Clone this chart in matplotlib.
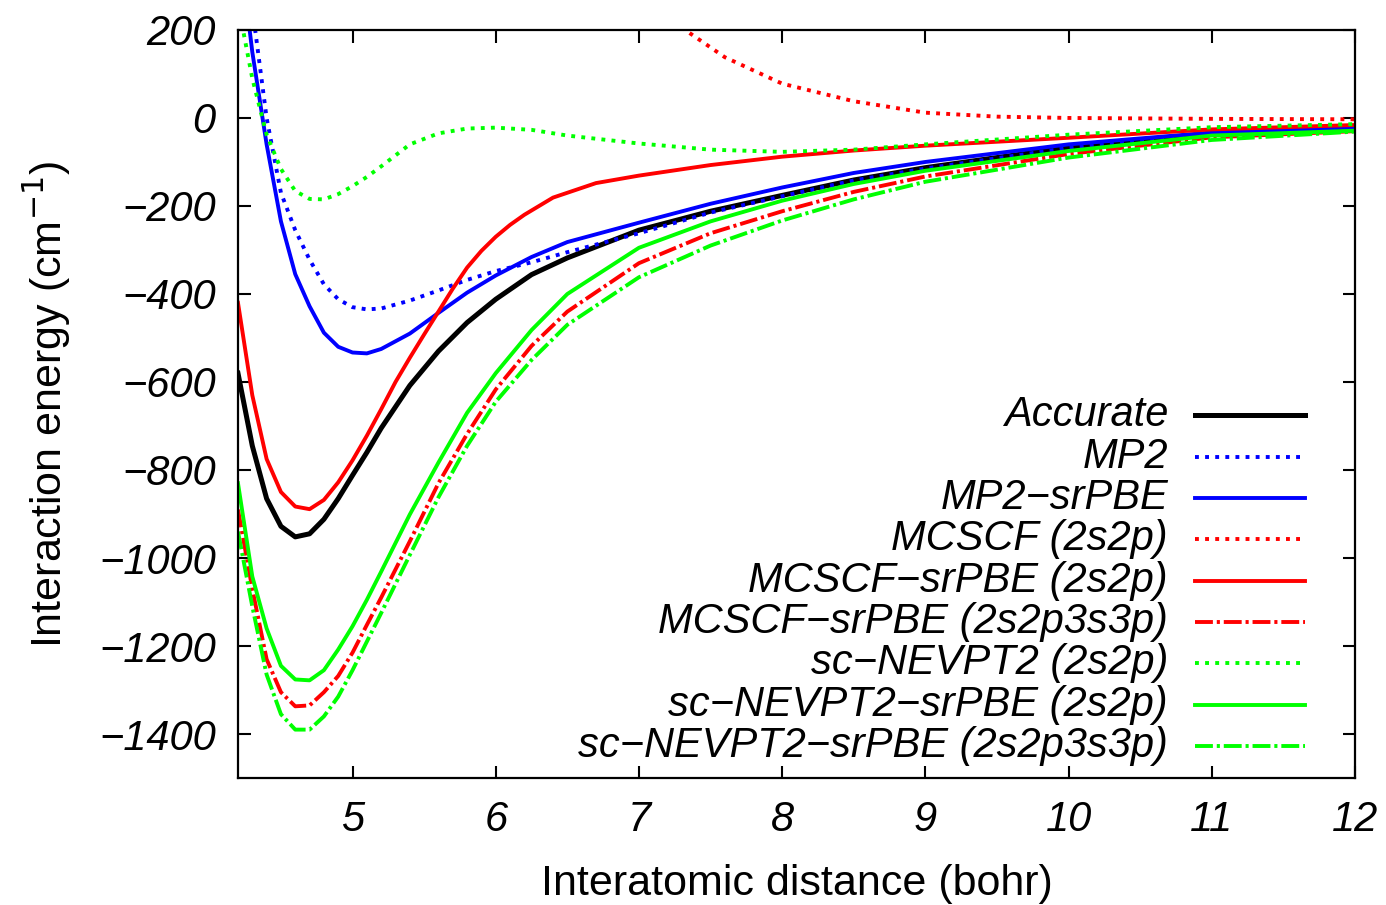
"""Courbes d'énergie d'interaction : méthodes MP2 / MCSCF / NEVPT2 avec ou sans srPBE."""
import matplotlib
matplotlib.use("Agg")
import matplotlib.pyplot as plt

# grille commune (bohr)
R = [4.2, 4.3, 4.4, 4.5, 4.6, 4.7, 4.8, 4.9, 5.0, 5.1, 5.2, 5.4, 5.6, 5.8,
     6.0, 6.25, 6.5, 7.0, 7.5, 8.0, 8.5, 9.0, 10.0, 11.0, 12.0]

accurate = [-580, -745, -865, -928, -952, -945, -912, -865, -812, -760, -705, -608,
            -530, -465, -412, -356, -318, -255, -212, -176, -141, -113, -67, -36, -23]
mp2 = [520, 250, 0, -170, -255, -322, -378, -412, -430, -435, -433, -415,
       -392, -368, -348, -328, -305, -262, -215, -178, -142, -115, -68, -37, -24]
mp2_srpbe = [420, 150, -60, -235, -355, -428, -488, -520, -533, -535, -525, -490,
             -443, -397, -358, -316, -282, -238, -195, -158, -125, -100, -60, -33, -21]
mcscf_srpbe_big = [-890, -1070, -1230, -1305, -1337, -1335, -1305, -1268, -1215, -1152,
                   -1090, -962, -830, -718, -617, -518, -440, -330, -262, -212, -168,
                   -133, -82, -44, -30]
nevpt2 = [260, 90, -38, -116, -166, -184, -185, -173, -155, -134, -110, -60,
          -35, -24, -22, -27, -40, -58, -72, -77, -72, -60, -38, -21, -14]
nevpt2_srpbe = [-830, -1042, -1160, -1245, -1276, -1278, -1255, -1208, -1155, -1095,
                -1031, -901, -783, -670, -580, -482, -400, -295, -235, -188, -150,
                -120, -75, -40, -29]
nevpt2_srpbe_big = [-940, -1110, -1265, -1355, -1390, -1390, -1360, -1315, -1255, -1190,
                    -1125, -993, -862, -745, -645, -550, -470, -362, -290, -233, -185,
                    -145, -90, -50, -31]

# MCSCF-srPBE (2s2p) : grille plus fine autour du coude
R_mcscf_srpbe = [4.2, 4.3, 4.4, 4.5, 4.6, 4.7, 4.8, 4.9, 5.0, 5.1, 5.2, 5.3, 5.4, 5.5,
                 5.6, 5.7, 5.8, 5.9, 6.0, 6.1, 6.2, 6.4, 6.7, 7.0, 7.5, 8.0, 8.5, 9.0,
                 10.0, 11.0, 12.0]
mcscf_srpbe = [-420, -630, -775, -850, -883, -889, -868, -828, -778, -722, -662, -600,
               -545, -492, -440, -388, -340, -302, -270, -243, -220, -181, -148, -131,
               -107, -88, -74, -63, -45, -26, -16]

# MCSCF (2s2p) : seulement la partie visible (au-dessus de 200 hors cadre)
R_mcscf = [6.8, 7.0, 7.3, 7.6, 8.0, 8.5, 9.0, 9.5, 10.0, 11.0, 12.0]
mcscf = [420, 300, 205, 138, 78, 38, 12, 3, 0, -2, -3]

labels = ["Accurate", "MP2", "MP2\u2212srPBE", "MCSCF (2s2p)", "MCSCF\u2212srPBE (2s2p)",
          "MCSCF\u2212srPBE (2s2p3s3p)", "sc\u2212NEVPT2 (2s2p)",
          "sc\u2212NEVPT2\u2212srPBE (2s2p)", "sc\u2212NEVPT2\u2212srPBE (2s2p3s3p)"]

LW = 2.8
DOT = (0, (1.0, 1.6))
DASHDOT = (0, (4.6, 1.0, 0.8, 1.0))
series = [
    (R, accurate, "black", "-", 3.6),
    (R, mp2, "#0000ff", DOT, LW),
    (R, mp2_srpbe, "#0000ff", "-", LW),
    (R_mcscf, mcscf, "#ff0000", DOT, LW),
    (R_mcscf_srpbe, mcscf_srpbe, "#ff0000", "-", LW),
    (R, mcscf_srpbe_big, "#ff0000", DASHDOT, LW),
    (R, nevpt2, "#00ff00", DOT, LW),
    (R, nevpt2_srpbe, "#00ff00", "-", LW),
    (R, nevpt2_srpbe_big, "#00ff00", DASHDOT, LW),
]

plt.rcParams["font.family"] = ["Liberation Sans", "DejaVu Sans"]
FS = 30

fig = plt.figure(figsize=(13.86, 9.05), dpi=100)
ax = fig.add_axes([0.1717, 0.1403, 0.8059, 0.8266])

for x, y, c, ls, lw in series:
    ax.plot(x, y, color=c, ls=ls, lw=lw, solid_joinstyle="round")

ax.set_xlim(4.2, 12)
ax.set_ylim(-1500, 200)
ax.set_xticks(range(5, 13))
ax.set_yticks(range(-1400, 201, 200))
ax.tick_params(direction="in", length=9, width=1.5, top=True, right=True, pad=16)
for t in ax.get_xticklabels() + ax.get_yticklabels():
    t.set_fontsize(FS)
    t.set_fontstyle("italic")
for s in ax.spines.values():
    s.set_linewidth(1.6)

ax.set_xlabel("Interatomic distance (bohr)", fontsize=31, labelpad=17)
ax.set_ylabel("Interaction energy (cm$^{-1}$)", fontsize=31, labelpad=19)

# légende à la gnuplot : texte aligné à droite, échantillon à droite
y0, dy = 0.485, 0.0553
for i, (lab, (_, _, c, ls, lw)) in enumerate(zip(labels, series)):
    yy = y0 - i * dy
    ax.plot([0.8568, 0.9552], [yy, yy], transform=ax.transAxes, color=c, ls=ls, lw=lw)
    ax.text(0.8326, yy, lab, transform=ax.transAxes, ha="right", va="center",
            fontsize=FS, fontstyle="italic")

fig.savefig("out.png", dpi=100)
